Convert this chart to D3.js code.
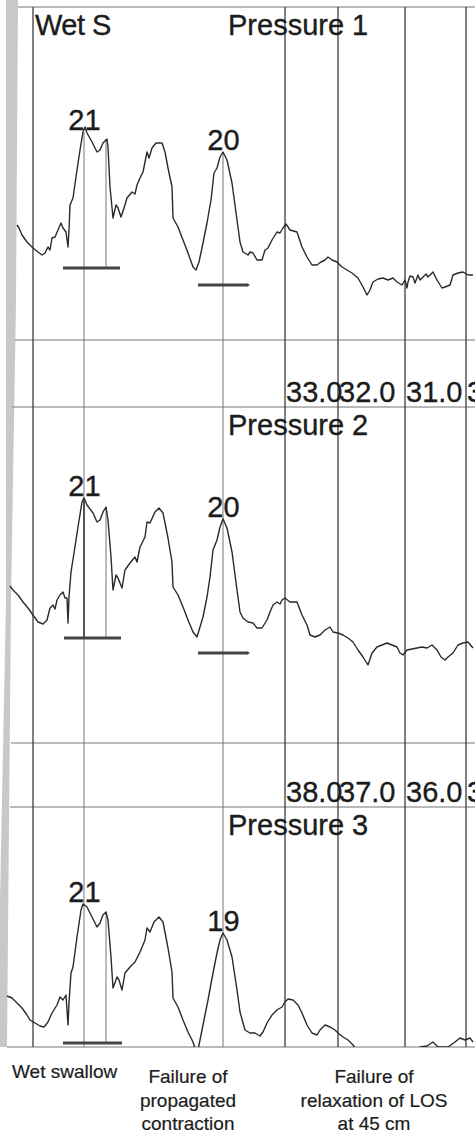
<!DOCTYPE html>
<html>
<head>
<meta charset="utf-8">
<script src="https://cdn.jsdelivr.net/npm/d3@7"></script>
<style>
  body { margin: 0; background: #fff; }
  svg { display: block; font-family: "Liberation Sans", Arial, sans-serif; }
  .trace { fill: none; stroke: #2a2a2a; stroke-width: 1.4; stroke-linejoin: round; }
  .grid { stroke: #3c3c3c; stroke-width: 1.3; }
  .marker { stroke: #666; stroke-width: 0.9; }
  .hline { stroke: #777; stroke-width: 1.2; }
  .bar { stroke: #444; stroke-width: 3; }
  .big { font-size: 29px; fill: #1c1c1c; stroke: #1c1c1c; stroke-width: 0.35; }
  .caption { font-size: 19px; fill: #1c1c1c; stroke: #1c1c1c; stroke-width: 0.2; }
</style>
</head>
<body>
<div id="chart"></div>
<script>
//-----------------------------------------------------//

// Data (time in s, pressure in arbitrary mmHg)
const trace1 = [
  [1.7,37.5],[1.9,36],[2.2,32.5],[2.7,29],[3.0,27.5],[3.3,26],[3.8,24],[4.2,22.5],[4.5,23.5],
  [4.8,26.5],[5.0,25],[5.2,31],[5.5,31.5],[5.8,35],[6.1,38.5],[6.3,36],[6.6,34],[6.8,26.5],
  [6.9,35],[7.0,47.5],[7.3,51],[7.6,61.5],[8.0,75],[8.3,84],[8.5,86.5],[8.7,83.5],[9.2,79],
  [9.7,74],[10.0,75],[10.3,78.5],[10.7,80.5],[10.8,76.5],[11.0,56.5],[11.3,41],[11.6,47.5],
  [11.8,46],[12.1,41.5],[12.4,46],[12.7,51],[13.2,54],[13.5,53],[13.7,57.5],[14.0,61],[14.3,64],
  [14.7,74],[14.9,71],[15.2,76],[15.6,78.5],[16.2,78.5],[16.5,74],[16.8,66],[17.2,56.5],[17.3,41],
  [17.8,36.5],[18.3,30],[18.8,23.5],[19.3,16.5],[19.6,15],[19.9,19],[20.3,28.5],[20.7,38.5],
  [21.1,50],[21.4,63.5],[21.7,66],[22.0,71.5],[22.3,74],[22.7,70],[23.2,58.5],[23.7,40],[24.0,29],
  [24.3,24],[24.8,22.5],[25.0,24],[25.3,23.5],[25.7,20],[26.2,20],[26.5,25],[26.8,26],[27.2,30],
  [27.7,34],[28.0,33.5],[28.3,36],[28.6,38],[29.0,35],[29.7,34],[30.2,26.5],[30.7,21.5],[31.2,17.5],
  [31.7,17.5],[32.1,19],[32.5,20],[32.8,21.5],[33.2,20],[33.7,19],[34.2,16.5],[34.7,15],[35.2,13.5],
  [35.8,11],[36.3,6.5],[36.7,2.5],[37.0,5],[37.3,9],[37.8,10.5],[38.3,11],[38.8,10],[39.3,11],
  [39.7,9],[40.2,7.5],[40.5,10],[40.7,6],[40.8,9],[41.0,12],[41.3,11.5],[41.5,8.5],[41.8,12.5],
  [42.0,10],[42.3,11.5],[42.6,13],[42.8,11.5],[43.3,14],[43.7,10],[44.2,6],[44.5,6.5],[45.0,7.5],
  [45.3,12.5],[45.8,13.5],[46.3,14],[46.8,12.5],[47.3,12.5]
];

const trace2 = [
  [1.0,42],[1.3,40],[1.8,37.5],[2.3,34],[2.8,31],[3.3,27.5],[3.8,24],[4.3,23],[4.7,25],[5.0,31],
  [5.3,32.5],[5.5,30.5],[5.7,35],[6.0,37.5],[6.3,39],[6.5,36],[6.7,36],[6.8,23.5],[6.9,36.5],
  [7.1,49],[7.4,58.5],[7.8,71.5],[8.2,84],[8.4,86],[8.7,82.5],[9.3,78.5],[9.7,74],[10.0,75],
  [10.3,79],[10.6,81.5],[10.8,75],[11.1,56.5],[11.3,40],[11.6,47.5],[11.8,46],[12.2,41],[12.5,50],
  [13.0,53.5],[13.5,56.5],[13.7,54],[14.0,61.5],[14.5,66.5],[14.7,74],[15.0,73.5],[15.5,79],
  [15.9,81],[16.3,78.5],[16.8,66],[17.2,54],[17.3,41.5],[17.8,37.5],[18.3,31.5],[18.8,25],
  [19.3,19],[19.7,16.5],[20.0,21.5],[20.3,26.5],[20.7,36.5],[21.0,46.5],[21.3,60],[21.7,65],
  [22.0,71.5],[22.3,75.5],[22.7,71],[23.2,59],[23.7,40],[24.0,29],[24.3,26],[24.8,24],[25.3,23.5],
  [25.7,21],[26.2,21],[26.7,25],[27.0,29],[27.3,32.5],[27.7,34],[28.0,33],[28.2,35],[28.5,36],
  [29.0,34],[29.7,34],[30.2,27.5],[30.7,22.5],[31.0,17.5],[31.5,16.5],[32.0,17.5],[32.5,20],
  [33.0,21.5],[33.3,19],[33.8,18.5],[34.3,17.5],[34.8,16],[35.3,14],[35.8,10],[36.3,6.5],[36.8,2.5],
  [37.2,8.5],[37.7,11.5],[38.2,12.5],[38.7,13.5],[39.2,12.5],[39.7,11.5],[40.0,8.5],[40.3,7.5],
  [40.7,10],[41.2,10.5],[41.7,11],[42.2,11.5],[42.7,11],[43.2,12.5],[43.7,10],[44.1,6.5],[44.5,5],
  [44.8,6.5],[45.3,8.5],[45.8,12.5],[46.3,13.5],[46.8,14],[47.3,11]
];

const trace3 = [
  [0.7,39.5],[1.2,38.5],[1.7,36],[2.2,33.5],[2.7,30],[3.0,27.5],[3.5,26],[4.0,24.5],[4.4,24],
  [4.8,26.5],[5.2,31],[5.7,35],[6.0,39],[6.3,37.5],[6.6,40],[6.8,25],[6.9,36],[7.1,51],[7.3,54],
  [7.7,69],[8.1,82.5],[8.3,85.5],[8.7,84],[9.2,79],[9.7,74],[10.0,76],[10.3,80],[10.6,81.5],
  [10.8,77.5],[11.1,59],[11.3,43.5],[11.7,49],[11.9,47.5],[12.2,42.5],[12.5,51],[13.0,54],
  [13.5,56.5],[14.0,61.5],[14.5,67.5],[14.7,73.5],[15.0,71.5],[15.4,76.5],[15.9,79],[16.3,76.5],
  [16.8,63.5],[17.2,51.5],[17.3,38.5],[17.8,34],[18.3,27.5],[18.8,21.5],[19.3,16.5],[19.7,10],
  [20.0,17.5],[20.4,27.5],[20.8,37.5],[21.3,51],[21.7,61],[22.0,67.5],[22.3,71],[22.7,67.5],
  [23.2,59],[23.7,42.5],[24.0,31.5],[24.5,22.5],[25.0,21],[25.5,21],[26.0,19.5],[26.3,21.5],
  [26.7,26],[27.2,30],[27.7,32.5],[28.2,34],[28.5,36.5],[28.8,38],[29.3,37.5],[29.8,35],[30.2,31],
  [30.7,25],[31.2,21],[31.7,20],[32.0,22.5],[32.5,25],[33.0,24],[33.5,22.5],[33.8,21],[34.3,19],
  [34.8,17.5],[35.3,15],[35.8,11.5],[36.5,5],[37.2,8.5],[38.5,10.5],[40.0,8.5],[41.2,11.5],
  [42.0,14],[42.7,14.5],[43.3,16.5],[43.8,14],[44.8,14],[45.5,16.5],[46.0,18.5],[46.5,17.5],
  [47.0,18.5],[47.3,16.5]
];

// Vertical grid lines (s) and the depth labels in the bands between panels
const gridTimes = [3.3, 28.5, 33.8, 40.5, 46.6];
const depthLabels1 = ["33.0", "32.0", "31.0", "30.0"];
const depthLabels2 = ["38.0", "37.0", "36.0", "35.0"];

// Peaks marked in each panel
const peakTimes = [8.4, 22.3];
const peakLabels = [["21", "20"], ["21", "20"], ["21", "19"]];
const secondPeakTime = 10.6;

// Baseline bars: [start, end, level]
const bars = [
  [[6.3, 12.0, 16], [19.8, 24.7, 7.5]],
  [[6.4, 12.1, 16], [19.8, 24.7, 8.5]],
  [[6.3, 12.2, 16]]
];

const panelTitles = ["Pressure 1", "Pressure 2", "Pressure 3"];
const captions = [
  { x: 12, y: 1078, anchor: "start", lines: ["Wet swallow"] },
  { x: 188, y: 1083, anchor: "middle", lines: ["Failure of", "propagated", "contraction"] },
  { x: 374, y: 1083, anchor: "middle", lines: ["Failure of", "relaxation of LOS", "at 45 cm"] }
];

//-----------------------------------------------------//

const width = 475;
const height = 1135;
const traces = [trace1, trace2, trace3];

// panel geometry (pixel rows)
const panels = [
  { top: 7, bottom: 340, zero: 300 },
  { top: 407, bottom: 743, zero: 670 },
  { top: 807, bottom: 1047, zero: 1075 }
];

var svg = null;
var x = d3.scaleLinear().domain([0, 47.5]).range([0, 475]);

document.addEventListener("DOMContentLoaded", function()
{
  svg = d3.select("#chart").append("svg")
    .attr("width", width)
    .attr("height", height);

  drawPaper();
  drawGrid();
  panels.forEach(function(p, i) { drawPanel(p, i); });
  drawCaptions();
});

function drawPaper()
{
  // scanner shadow along the left edge
  svg.append("path")
    .attr("d", "M6,0 L18,0 L16,300 L11,600 L7,1047 L0,1047 L0,900 L6,600 Z")
    .attr("fill", "#c8c8c8");

  // horizontal rules
  const rules = [[18, 7], [15, 340], [12, 407], [11, 743], [10, 807], [7, 1047]];
  svg.selectAll(".hline")
    .data(rules)
    .enter().append("line")
    .attr("class", "hline")
    .attr("x1", d => d[0]).attr("x2", width)
    .attr("y1", d => d[1]).attr("y2", d => d[1]);
}

function drawGrid()
{
  svg.selectAll(".grid")
    .data(gridTimes)
    .enter().append("line")
    .attr("class", "grid")
    .attr("x1", d => x(d)).attr("x2", d => x(d))
    .attr("y1", 7).attr("y2", 1047);

  // peak markers run from the first panel's peaks to the bottom
  let y1 = yScale(panels[0]);
  svg.selectAll(".marker-long")
    .data(peakTimes)
    .enter().append("line")
    .attr("class", "marker")
    .attr("x1", d => x(d)).attr("x2", d => x(d))
    .attr("y1", d => y1(valueAt(trace1, d)))
    .attr("y2", 1047);

  // depth labels in the bands (the last one runs off the page, as in the print)
  [[depthLabels1, 402], [depthLabels2, 802]].forEach(function(band)
  {
    svg.append("g").selectAll("text")
      .data(band[0])
      .enter().append("text")
      .attr("class", "big")
      .attr("x", (d, i) => x(gridTimes[i + 1]) + 1)
      .attr("y", band[1])
      .text(d => d);
  });
}

function yScale(p)
{
  return d3.scaleLinear().domain([0, 100]).range([p.zero, p.zero - 200]);
}

function valueAt(trace, t)
{
  let best = trace[0];
  trace.forEach(function(d) { if (Math.abs(d[0] - t) < Math.abs(best[0] - t)) best = d; });
  return best[1];
}

function drawPanel(p, i)
{
  let y = yScale(p);
  let data = traces[i];

  let clipId = "clip" + i;
  svg.append("clipPath").attr("id", clipId)
    .append("rect")
    .attr("x", 0).attr("y", p.top)
    .attr("width", width).attr("height", p.bottom - p.top);

  let g = svg.append("g").attr("clip-path", `url(#${clipId})`);

  // short marker on the second peak of the swallow
  let bar1 = bars[i][0];
  g.append("line")
    .attr("class", "marker")
    .attr("x1", x(secondPeakTime)).attr("x2", x(secondPeakTime))
    .attr("y1", y(valueAt(data, secondPeakTime)))
    .attr("y2", y(bar1[2]));

  if (i == 1)
  {
    g.append("line")
      .attr("stroke", "#333").attr("stroke-width", 1.5)
      .attr("x1", x(peakTimes[0])).attr("x2", x(peakTimes[0]))
      .attr("y1", y(valueAt(data, peakTimes[0])))
      .attr("y2", y(bar1[2]));
  }

  g.selectAll(".bar")
    .data(bars[i])
    .enter().append("line")
    .attr("class", "bar")
    .attr("x1", d => x(d[0])).attr("x2", d => x(d[1]))
    .attr("y1", d => y(d[2])).attr("y2", d => y(d[2]));

  // little arrow head on the second bar
  if (bars[i][1])
  {
    let b = bars[i][1];
    g.append("path")
      .attr("d", `M${x(b[1])},${y(b[2]) - 2} L${x(b[1]) + 3},${y(b[2])} L${x(b[1])},${y(b[2]) + 2} Z`)
      .attr("fill", "#444");
  }

  g.append("path")
    .datum(data)
    .attr("class", "trace")
    .attr("d", d3.line().x(d => x(d[0])).y(d => y(d[1])));

  // peak values
  svg.append("g").selectAll("text")
    .data(peakTimes)
    .enter().append("text")
    .attr("class", "big")
    .attr("text-anchor", "middle")
    .attr("x", d => x(d) + 0.5)
    .attr("y", d => y(valueAt(data, d)) - 2)
    .text((d, k) => peakLabels[i][k]);

  svg.append("text")
    .attr("class", "big")
    .attr("x", 228)
    .attr("y", p.top + 28)
    .text(panelTitles[i]);

  if (i == 0)
  {
    svg.append("text")
      .attr("class", "big")
      .attr("x", 35)
      .attr("y", p.top + 28)
      .attr("letter-spacing", -0.5)
      .text("Wet S");
  }
}

function drawCaptions()
{
  captions.forEach(function(c)
  {
    let t = svg.append("text")
      .attr("class", "caption")
      .attr("text-anchor", c.anchor);
    c.lines.forEach(function(line, k)
    {
      t.append("tspan")
        .attr("x", c.x)
        .attr("y", c.y + k * 23.5)
        .text(line);
    });
  });
}
</script>
</body>
</html>
